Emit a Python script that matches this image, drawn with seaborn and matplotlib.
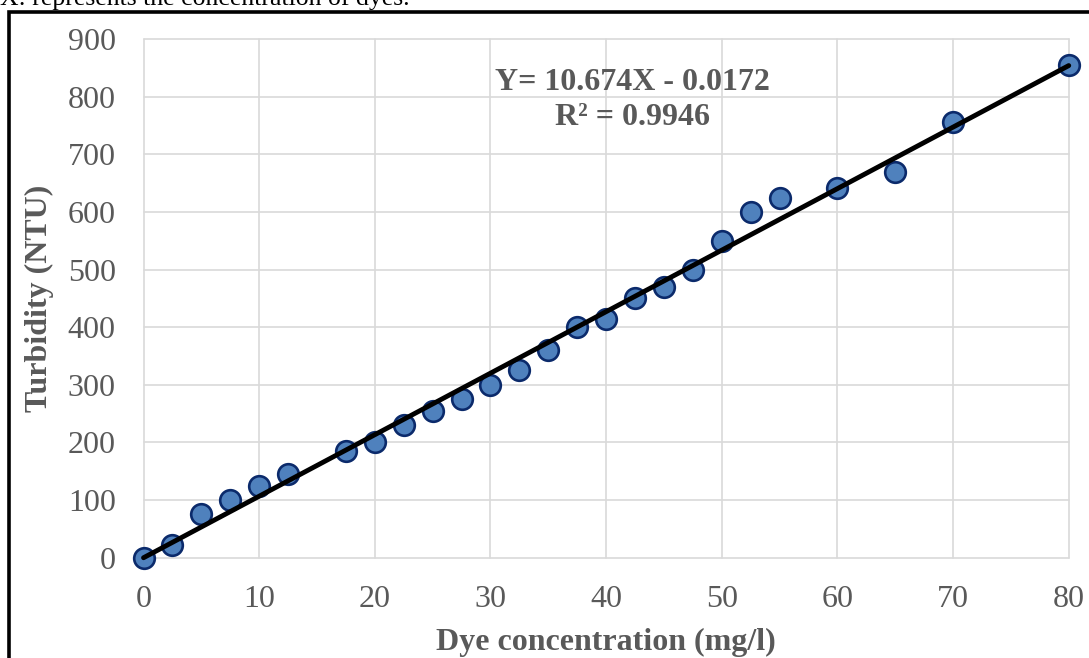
import matplotlib
matplotlib.use("Agg")
import matplotlib.pyplot as plt
import seaborn as sns
import numpy as np
import pandas as pd
from matplotlib.patches import Rectangle

# ---- data ----
concentration = [0, 2.5, 5, 7.5, 10, 12.5, 17.5, 20, 22.5, 25, 27.5, 30, 32.5, 35,
                 37.5, 40, 42.5, 45, 47.5, 50, 52.5, 55, 60, 65, 70, 80]
turbidity = [0, 22, 75, 100, 125, 145, 185, 200, 230, 255, 275, 300, 325, 360,
             400, 415, 450, 470, 500, 550, 600, 625, 641, 669, 756, 855]
slope = 10.674
intercept = -0.0172
equation_text = "Y= 10.674X - 0.0172"
r2_text = "R² = 0.9946"
x_ticks = [0, 10, 20, 30, 40, 50, 60, 70, 80]
y_ticks = [0, 100, 200, 300, 400, 500, 600, 700, 800, 900]
x_label = "Dye concentration (mg/l)"
y_label = "Turbidity (NTU)"
top_note = "X: represents the concentration of dyes."

df = pd.DataFrame({"conc": concentration, "turb": turbidity})
x_line = np.array([min(concentration), max(concentration)], dtype=float)
line_df = pd.DataFrame({"conc": x_line, "turb": slope * x_line + intercept})

sns.set_theme(style="white")
plt.rcParams["font.family"] = ["Liberation Serif", "DejaVu Serif"]

fig = plt.figure(figsize=(10.89, 6.58), dpi=100)
ax = fig.add_axes([0.1318, 0.1524, 0.9814 - 0.1318, 0.9407 - 0.1524])

gray = "#595959"
grid_c = "#d9d9d9"

sns.scatterplot(data=df, x="conc", y="turb", ax=ax, s=220, color="#4F81BD",
                edgecolor="#0B2A6B", linewidth=1.9, zorder=3, clip_on=False)
sns.lineplot(data=line_df, x="conc", y="turb", ax=ax, color="black",
             linewidth=3.5, zorder=4)
for ln in ax.lines:
    ln.set_clip_on(False)

ax.set_xlim(0, 80)
ax.set_ylim(0, 900)
ax.set_xticks(x_ticks)
ax.set_yticks(y_ticks)
ax.set_xticklabels([str(t) for t in x_ticks])
ax.set_yticklabels([str(t) for t in y_ticks])
ax.tick_params(axis="both", length=0, labelsize=23, labelcolor=gray)
ax.tick_params(axis="x", pad=20)
ax.tick_params(axis="y", pad=20)

ax.grid(True, color=grid_c, linewidth=1.2)
ax.set_axisbelow(True)
for gl in ax.get_xgridlines() + ax.get_ygridlines():
    gl.set_clip_on(False)
for s in ax.spines.values():
    s.set_visible(False)

ax.set_xlabel(x_label, fontsize=23, fontweight="bold", color=gray, labelpad=10)
ax.set_ylabel(y_label, fontsize=23, fontweight="bold", color=gray, labelpad=10)

ax.text(42.3, 825, equation_text, ha="center", va="center", fontsize=23,
        fontweight="bold", color=gray, zorder=5)
ax.text(42.3, 763, r2_text, ha="center", va="center", fontsize=23,
        fontweight="bold", color=gray, zorder=5)

# outer frame and cut-off caption text (as in the source image)
fig.add_artist(Rectangle((9 / 1089, -0.1), 1.2, 1 - 12 / 658 + 0.1,
                         transform=fig.transFigure, fill=False,
                         edgecolor="black", linewidth=2.6, clip_on=False))
fig.text(0.0, 1 - 5 / 658, top_note, ha="left", va="baseline", fontsize=18.5,
         color="black")

fig.savefig("out.png", dpi=100)
